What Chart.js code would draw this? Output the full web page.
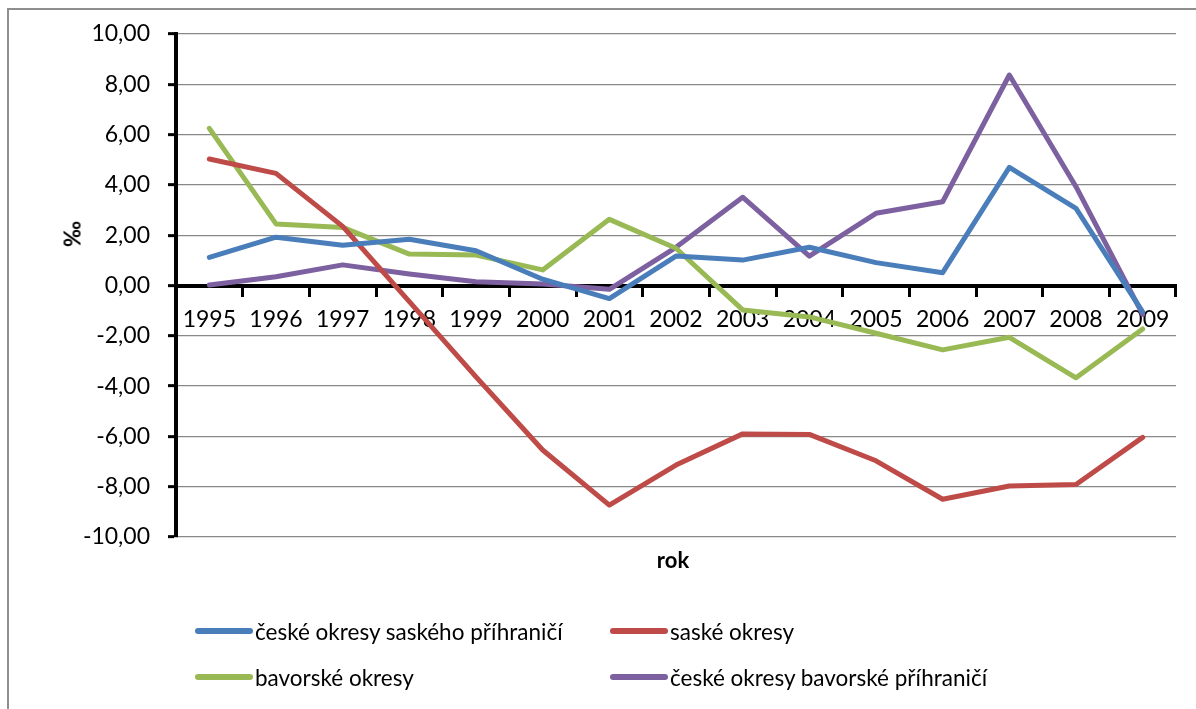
<!DOCTYPE html>
<html lang="cs">
<head>
<meta charset="utf-8">
<title>Saldo migrace</title>
<script src="https://cdn.jsdelivr.net/npm/chart.js@4.4.1/dist/chart.umd.min.js"></script>
<style>
  html, body { margin: 0; padding: 0; background: #fff; }
  body {
    width: 1196px; height: 709px; overflow: hidden; position: relative;
    font-family: Lato, "Open Sans", sans-serif; color: #000;
  }
  #frame {
    position: absolute; left: 7px; top: 8px; width: 1400px; height: 900px;
    border: 2px solid #8e8e8e; box-sizing: border-box;
  }
  #chart { position: absolute; left: 0; top: 0; }
  #yTitle {
    position: absolute; left: 72px; top: 234px;
    transform: translate(-50%, -50%) rotate(-90deg);
    font-weight: bold; font-size: 22px;
  }
  #xTitle {
    position: absolute; left: 673px; top: 559px;
    transform: translate(-50%, -50%);
    font-weight: bold; font-size: 22px;
  }
  #legend {
    position: absolute; left: 195px; top: 608px;
    display: grid; grid-template-columns: 415px auto;
  }
  .item { display: flex; align-items: center; height: 46px; font-size: 22.5px; white-space: nowrap; }
  .swatch { width: 58px; height: 6px; border-radius: 3px; margin-right: 2px; }
</style>
</head>
<body>
<div id="frame"></div>
<canvas id="chart" width="1196" height="709"></canvas>
<div id="yTitle">‰</div>
<div id="xTitle">rok</div>
<div id="legend"></div>

<script>
// ===================================
// DATA
// ===================================
const years = ['1995', '1996', '1997', '1998', '1999', '2000', '2001', '2002',
               '2003', '2004', '2005', '2006', '2007', '2008', '2009'];

const seriesNames = [
    'české okresy saského příhraničí',
    'saské okresy',
    'bavorské okresy',
    'české okresy bavorské příhraničí'
];

const ceskeSaske   = [1.12, 1.92, 1.60, 1.84, 1.38, 0.25, -0.52, 1.17, 1.01, 1.52, 0.91, 0.51, 4.70, 3.07, -1.05];
const saske        = [5.03, 4.46, 2.35, -0.64, -3.63, -6.54, -8.73, -7.14, -5.90, -5.92, -6.97, -8.50, -7.97, -7.91, -6.04];
const bavorske     = [6.25, 2.45, 2.31, 1.25, 1.21, 0.62, 2.63, 1.48, -0.97, -1.25, -1.90, -2.56, -2.06, -3.67, -1.73];
const ceskeBavorske = [0.02, 0.35, 0.82, 0.46, 0.15, 0.06, -0.15, 1.52, 3.51, 1.17, 2.87, 3.33, 8.37, 3.93, -1.15];

const seriesColors = ['#4a7ebb', '#be4b48', '#98b954', '#7d60a0'];

const yMin = -10;
const yMax = 10;
const yStep = 2;

// ===================================
// CHART
// ===================================
const values = [ceskeSaske, saske, bavorske, ceskeBavorske];

const chart = new Chart(document.getElementById('chart'), {
    type: 'line',
    data: {
        labels: years,
        datasets: values.map((v, i) => ({
            label: seriesNames[i],
            data: v,
            borderColor: seriesColors[i],
            backgroundColor: seriesColors[i],
            borderWidth: 5,
            borderJoinStyle: 'round',
            borderCapStyle: 'round',
            pointRadius: 0,
            tension: 0,
            fill: false
        }))
    },
    options: {
        responsive: false,
        animation: false,
        layout: { padding: { top: 34, right: 20, bottom: 172, left: 0 } },
        plugins: {
            legend: { display: false },
            tooltip: { enabled: false }
        },
        scales: {
            x: {
                type: 'category',
                offset: true,
                position: { y: 0 },
                grid: {
                    display: true,
                    offset: true,
                    drawOnChartArea: false,
                    drawTicks: true,
                    tickLength: 9,
                    tickWidth: 3,
                    tickColor: '#000'
                },
                border: { display: true, color: '#000', width: 4 },
                ticks: {
                    color: '#000',
                    padding: 11,
                    maxRotation: 0,
                    autoSkip: false,
                    font: { family: 'Lato', size: 23 }
                }
            },
            y: {
                min: yMin,
                max: yMax,
                afterFit: (scale) => { scale.width = 176; },
                grid: {
                    color: '#888888',
                    lineWidth: 1.3,
                    tickLength: 8,
                    tickWidth: 3,
                    tickColor: '#000'
                },
                border: { display: true, color: '#000', width: 4 },
                ticks: {
                    stepSize: yStep,
                    color: '#000',
                    padding: 18,
                    font: { family: 'Lato', size: 23 },
                    callback: (v) => v.toFixed(2).replace('.', ',')
                }
            }
        }
    }
});

// HTML legend in two columns, built from the datasets
const legendBox = document.getElementById('legend');
chart.data.datasets.forEach(ds => {
    const item = document.createElement('div');
    item.className = 'item';
    const sw = document.createElement('span');
    sw.className = 'swatch';
    sw.style.background = ds.borderColor;
    const txt = document.createElement('span');
    txt.textContent = ds.label;
    item.appendChild(sw);
    item.appendChild(txt);
    legendBox.appendChild(item);
});
</script>
</body>
</html>
